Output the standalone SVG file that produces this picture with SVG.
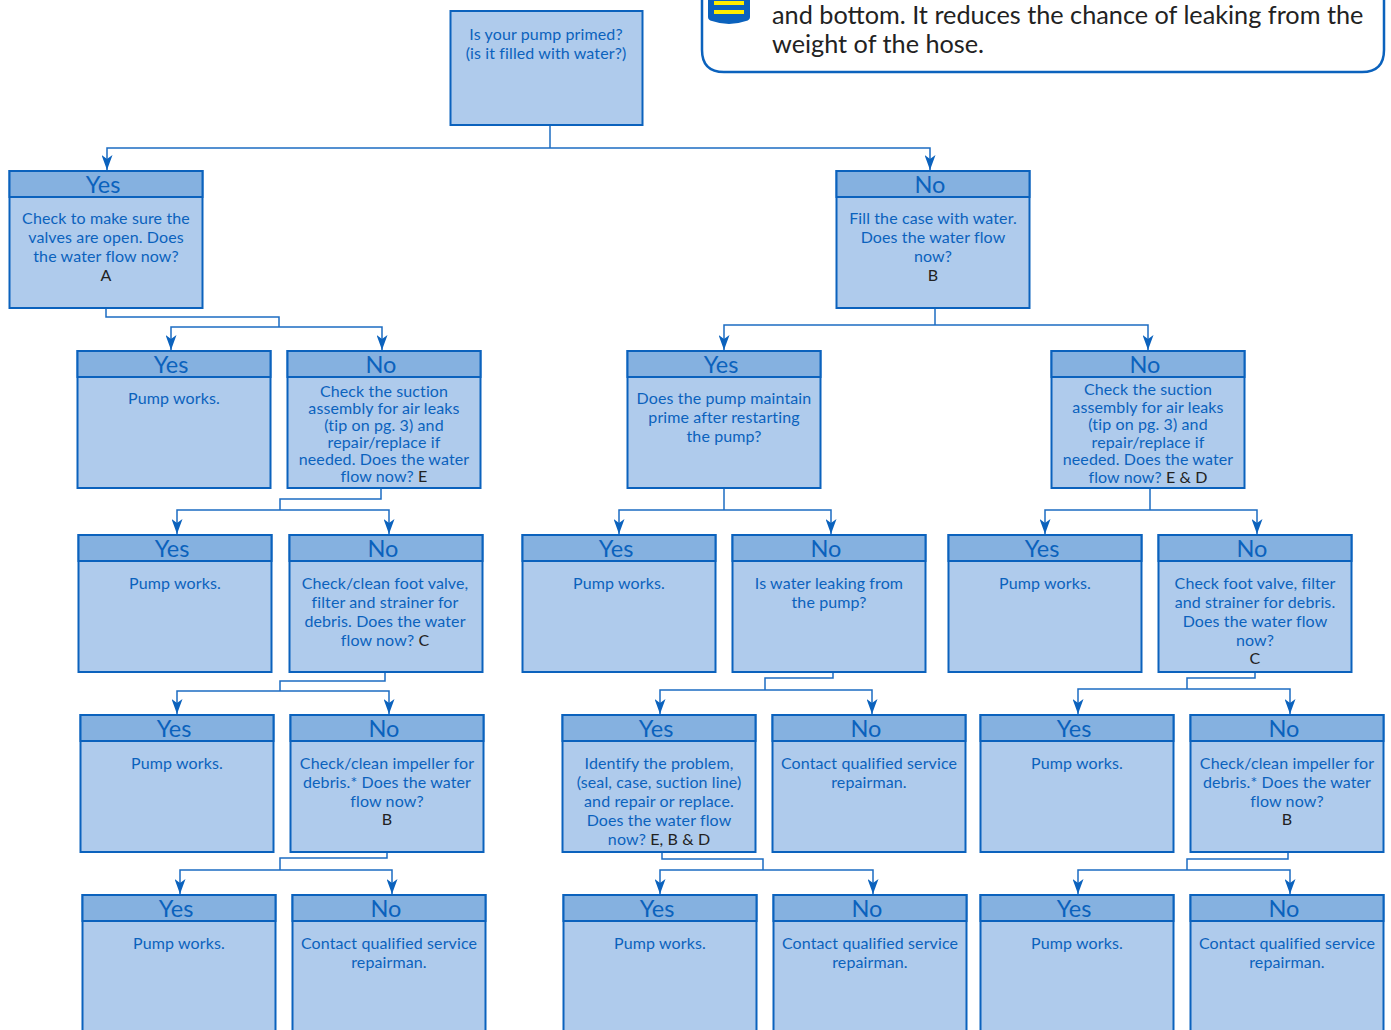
<svg xmlns="http://www.w3.org/2000/svg" width="1391" height="1030" viewBox="0 0 1391 1030">
<style>
text{font-family:"Lato","Liberation Sans",sans-serif}
.box,.hd{stroke:#0b62bd;stroke-width:2;transform:translate(.5px,0)}
.box{fill:#afcbec}
.hd{fill:#85b1e0}
.h{font-size:23.5px;fill:#0b62bd;text-anchor:middle}
.t{font-size:16px;fill:#0b62bd;text-anchor:middle;letter-spacing:.12px}
.k{fill:#222}
.c{fill:none;stroke:#1c6cc2;stroke-width:1.5}
.b{marker-start:url(#a);marker-end:url(#a)}
.n{font-size:25.25px;fill:#222}
</style>
<defs><marker id="a" markerUnits="userSpaceOnUse" markerWidth="15" markerHeight="11" refX="15" refY="5.5" orient="auto-start-reverse" viewBox="0 0 15 11"><path d="M0 0L4 5.5L0 11L15 5.5Z" fill="#0b62bd"/></marker></defs>
<g id="connectors">
<path class="c" d="M550 125V148"/><path class="c b" d="M107 170V148H930V170"/>
<path class="c" d="M106 308V317H279V327"/><path class="c b" d="M171 350V327H382V350"/>
<path class="c" d="M935 308V325"/><path class="c b" d="M724 350V325H1148V350"/>
<path class="c" d="M381 488V499H280V510"/><path class="c b" d="M177 534V510H389V534"/>
<path class="c" d="M724 488V510"/><path class="c b" d="M619 534V510H831V534"/>
<path class="c" d="M1150 488V510"/><path class="c b" d="M1045 534V510H1257V534"/>
<path class="c" d="M385 672V681H280V691"/><path class="c b" d="M177 714V691H389V714"/>
<path class="c" d="M833 672V678H765V690"/><path class="c b" d="M660 714V690H872V714"/>
<path class="c" d="M1255 672V678H1187V689"/><path class="c b" d="M1078 714V689H1290V714"/>
<path class="c" d="M387 852V858H280V870"/><path class="c b" d="M180 894V870H392V894"/>
<path class="c" d="M662 852V859H763V870"/><path class="c b" d="M660 894V870H873V894"/>
<path class="c" d="M1288 852V859H1187V870"/><path class="c b" d="M1078 894V870H1290V894"/>
</g>
<g id="note">
<path d="M702 -20V50Q702 72 724 72H1362Q1384 72 1384 50V-20" fill="#fff" stroke="#0b62bd" stroke-width="2.5"/>
<path d="M708 0H750V17Q750 20 746 21Q729 27 712 21Q708 20 708 17Z" fill="#0b62bd"/>
<rect x="714" y="1" width="30" height="4" fill="#ffee00"/><rect x="714" y="10" width="30" height="4" fill="#ffee00"/>
<text class="n" x="772" y="24">and bottom. It reduces the chance of leaking from the</text>
<text class="n" x="772" y="53">weight of the hose.</text>
</g>
<g id="root"><rect class="box" x="450" y="11" width="192" height="114"/><text class="t" x="546" y="40">Is your pump primed?</text><text class="t" x="546" y="59">(is it filled with water?)</text></g>
<g id="n1"><rect class="box" x="9" y="171" width="193" height="137"/><rect class="hd" x="9" y="171" width="193" height="26"/><text class="h" x="103" y="193">Yes</text><text class="t" x="106" y="224">Check to make sure the</text><text class="t" x="106" y="243">valves are open. Does</text><text class="t" x="106" y="262">the water flow now?</text><text class="t k" x="106" y="281">A</text></g>
<g id="n2"><rect class="box" x="836" y="171" width="193" height="137"/><rect class="hd" x="836" y="171" width="193" height="26"/><text class="h" x="930" y="193">No</text><text class="t" x="933" y="224">Fill the case with water.</text><text class="t" x="933" y="243">Does the water flow</text><text class="t" x="933" y="262">now?</text><text class="t k" x="933" y="281">B</text></g>
<g id="n3"><rect class="box" x="77" y="351" width="193" height="137"/><rect class="hd" x="77" y="351" width="193" height="26"/><text class="h" x="171" y="373">Yes</text><text class="t" x="174" y="404">Pump works.</text></g>
<g id="n4"><rect class="box" x="287" y="351" width="193" height="137"/><rect class="hd" x="287" y="351" width="193" height="26"/><text class="h" x="381" y="373">No</text><text class="t" x="384" y="397">Check the suction</text><text class="t" x="384" y="414">assembly for air leaks</text><text class="t" x="384" y="431">(tip on pg. 3) and</text><text class="t" x="384" y="448">repair/replace if</text><text class="t" x="384" y="465">needed. Does the water</text><text class="t" x="384" y="482">flow now? <tspan class="k">E</tspan></text></g>
<g id="n5"><rect class="box" x="627" y="351" width="193" height="137"/><rect class="hd" x="627" y="351" width="193" height="26"/><text class="h" x="721" y="373">Yes</text><text class="t" x="724" y="404">Does the pump maintain</text><text class="t" x="724" y="423">prime after restarting</text><text class="t" x="724" y="442">the pump?</text></g>
<g id="n6"><rect class="box" x="1051" y="351" width="193" height="137"/><rect class="hd" x="1051" y="351" width="193" height="26"/><text class="h" x="1145" y="373">No</text><text class="t" x="1148" y="395">Check the suction</text><text class="t" x="1148" y="413">assembly for air leaks</text><text class="t" x="1148" y="430">(tip on pg. 3) and</text><text class="t" x="1148" y="448">repair/replace if</text><text class="t" x="1148" y="465">needed. Does the water</text><text class="t" x="1148" y="483">flow now? <tspan class="k">E &amp; D</tspan></text></g>
<g id="n7"><rect class="box" x="78" y="535" width="193" height="137"/><rect class="hd" x="78" y="535" width="193" height="26"/><text class="h" x="172" y="557">Yes</text><text class="t" x="175" y="589">Pump works.</text></g>
<g id="n8"><rect class="box" x="289" y="535" width="193" height="137"/><rect class="hd" x="289" y="535" width="193" height="26"/><text class="h" x="383" y="557">No</text><text class="t" x="385" y="589">Check/clean foot valve,</text><text class="t" x="385" y="608">filter and strainer for</text><text class="t" x="385" y="627">debris. Does the water</text><text class="t" x="385" y="646">flow now? <tspan class="k">C</tspan></text></g>
<g id="n9"><rect class="box" x="522" y="535" width="193" height="137"/><rect class="hd" x="522" y="535" width="193" height="26"/><text class="h" x="616" y="557">Yes</text><text class="t" x="619" y="589">Pump works.</text></g>
<g id="n10"><rect class="box" x="732" y="535" width="193" height="137"/><rect class="hd" x="732" y="535" width="193" height="26"/><text class="h" x="826" y="557">No</text><text class="t" x="829" y="589">Is water leaking from</text><text class="t" x="829" y="608">the pump?</text></g>
<g id="n11"><rect class="box" x="948" y="535" width="193" height="137"/><rect class="hd" x="948" y="535" width="193" height="26"/><text class="h" x="1042" y="557">Yes</text><text class="t" x="1045" y="589">Pump works.</text></g>
<g id="n12"><rect class="box" x="1158" y="535" width="193" height="137"/><rect class="hd" x="1158" y="535" width="193" height="26"/><text class="h" x="1252" y="557">No</text><text class="t" x="1255" y="589">Check foot valve, filter</text><text class="t" x="1255" y="608">and strainer for debris.</text><text class="t" x="1255" y="627">Does the water flow</text><text class="t" x="1255" y="646">now?</text><text class="t k" x="1255" y="664">C</text></g>
<g id="n13"><rect class="box" x="80" y="715" width="193" height="137"/><rect class="hd" x="80" y="715" width="193" height="26"/><text class="h" x="174" y="737">Yes</text><text class="t" x="177" y="769">Pump works.</text></g>
<g id="n14"><rect class="box" x="290" y="715" width="193" height="137"/><rect class="hd" x="290" y="715" width="193" height="26"/><text class="h" x="384" y="737">No</text><text class="t" x="387" y="769">Check/clean impeller for</text><text class="t" x="387" y="788">debris.* Does the water</text><text class="t" x="387" y="807">flow now?</text><text class="t k" x="387" y="825">B</text></g>
<g id="n15"><rect class="box" x="562" y="715" width="193" height="137"/><rect class="hd" x="562" y="715" width="193" height="26"/><text class="h" x="656" y="737">Yes</text><text class="t" x="659" y="769">Identify the problem,</text><text class="t" x="659" y="788">(seal, case, suction line)</text><text class="t" x="659" y="807">and repair or replace.</text><text class="t" x="659" y="826">Does the water flow</text><text class="t" x="659" y="845">now? <tspan class="k">E, B &amp; D</tspan></text></g>
<g id="n16"><rect class="box" x="772" y="715" width="193" height="137"/><rect class="hd" x="772" y="715" width="193" height="26"/><text class="h" x="866" y="737">No</text><text class="t" x="869" y="769">Contact qualified service</text><text class="t" x="869" y="788">repairman.</text></g>
<g id="n17"><rect class="box" x="980" y="715" width="193" height="137"/><rect class="hd" x="980" y="715" width="193" height="26"/><text class="h" x="1074" y="737">Yes</text><text class="t" x="1077" y="769">Pump works.</text></g>
<g id="n18"><rect class="box" x="1190" y="715" width="193" height="137"/><rect class="hd" x="1190" y="715" width="193" height="26"/><text class="h" x="1284" y="737">No</text><text class="t" x="1287" y="769">Check/clean impeller for</text><text class="t" x="1287" y="788">debris.* Does the water</text><text class="t" x="1287" y="807">flow now?</text><text class="t k" x="1287" y="825">B</text></g>
<g id="n19"><rect class="box" x="82" y="895" width="193" height="145"/><rect class="hd" x="82" y="895" width="193" height="26"/><text class="h" x="176" y="917">Yes</text><text class="t" x="179" y="949">Pump works.</text></g>
<g id="n20"><rect class="box" x="292" y="895" width="193" height="145"/><rect class="hd" x="292" y="895" width="193" height="26"/><text class="h" x="386" y="917">No</text><text class="t" x="389" y="949">Contact qualified service</text><text class="t" x="389" y="968">repairman.</text></g>
<g id="n21"><rect class="box" x="563" y="895" width="193" height="145"/><rect class="hd" x="563" y="895" width="193" height="26"/><text class="h" x="657" y="917">Yes</text><text class="t" x="660" y="949">Pump works.</text></g>
<g id="n22"><rect class="box" x="773" y="895" width="193" height="145"/><rect class="hd" x="773" y="895" width="193" height="26"/><text class="h" x="867" y="917">No</text><text class="t" x="870" y="949">Contact qualified service</text><text class="t" x="870" y="968">repairman.</text></g>
<g id="n23"><rect class="box" x="980" y="895" width="193" height="145"/><rect class="hd" x="980" y="895" width="193" height="26"/><text class="h" x="1074" y="917">Yes</text><text class="t" x="1077" y="949">Pump works.</text></g>
<g id="n24"><rect class="box" x="1190" y="895" width="193" height="145"/><rect class="hd" x="1190" y="895" width="193" height="26"/><text class="h" x="1284" y="917">No</text><text class="t" x="1287" y="949">Contact qualified service</text><text class="t" x="1287" y="968">repairman.</text></g>
</svg>
